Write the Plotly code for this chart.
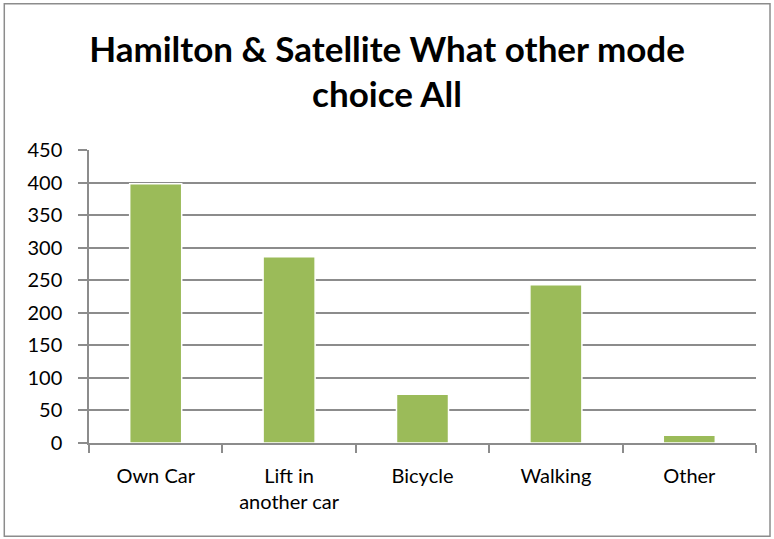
import plotly.graph_objects as go

# Données
categories = ["Own Car", "Lift in<br>another car", "Bicycle", "Walking", "Other"]
values = [398, 286, 75, 243, 12]
y_ticks = [0, 50, 100, 150, 200, 250, 300, 350, 400, 450]

fig = go.Figure(go.Bar(
    x=categories,
    y=values,
    width=0.39,
    marker=dict(color="#9BBB59", line=dict(color="white", width=1.5)),
))

fig.update_layout(
    width=774,
    height=539,
    margin=dict(l=89, r=18, t=150, b=96),
    paper_bgcolor="white",
    plot_bgcolor="white",
    showlegend=False,
    title=dict(
        text="<b>Hamilton & Satellite What other mode<br>choice All</b>",
        x=0.5, xanchor="center", y=0.885, yanchor="middle",
        font=dict(family="Lato", size=35, color="black"),
    ),
    font=dict(family="Lato", size=20, color="black"),
)
fig.update_xaxes(
    showline=True, linecolor="#8c8c8c", linewidth=1.5,
    ticks="outside", tickson="boundaries", ticklen=8, tickcolor="#8c8c8c", tickwidth=1.5,
    ticklabelstandoff=14,
    showgrid=False,
)
fig.update_yaxes(
    range=[0, 450], tickvals=y_ticks,
    showline=True, linecolor="#8c8c8c", linewidth=1.5,
    ticks="outside", ticklen=9, tickcolor="#8c8c8c", tickwidth=1.5,
    ticklabelstandoff=12,
    showgrid=True, gridcolor="#8c8c8c", gridwidth=1.5,
    zeroline=False,
)
# Cadre extérieur du graphique
fig.add_shape(type="rect", xref="paper", yref="paper",
              x0=-0.127, x1=1.021, y0=-0.318, y1=1.499,
              line=dict(color="#8c8c8c", width=1.5))

# marge du body à zéro pour que la figure commence au coin de la fenêtre
fig.write_html("out.html", config={"displayModeBar": False},
               post_script="document.body.style.margin='0';")
